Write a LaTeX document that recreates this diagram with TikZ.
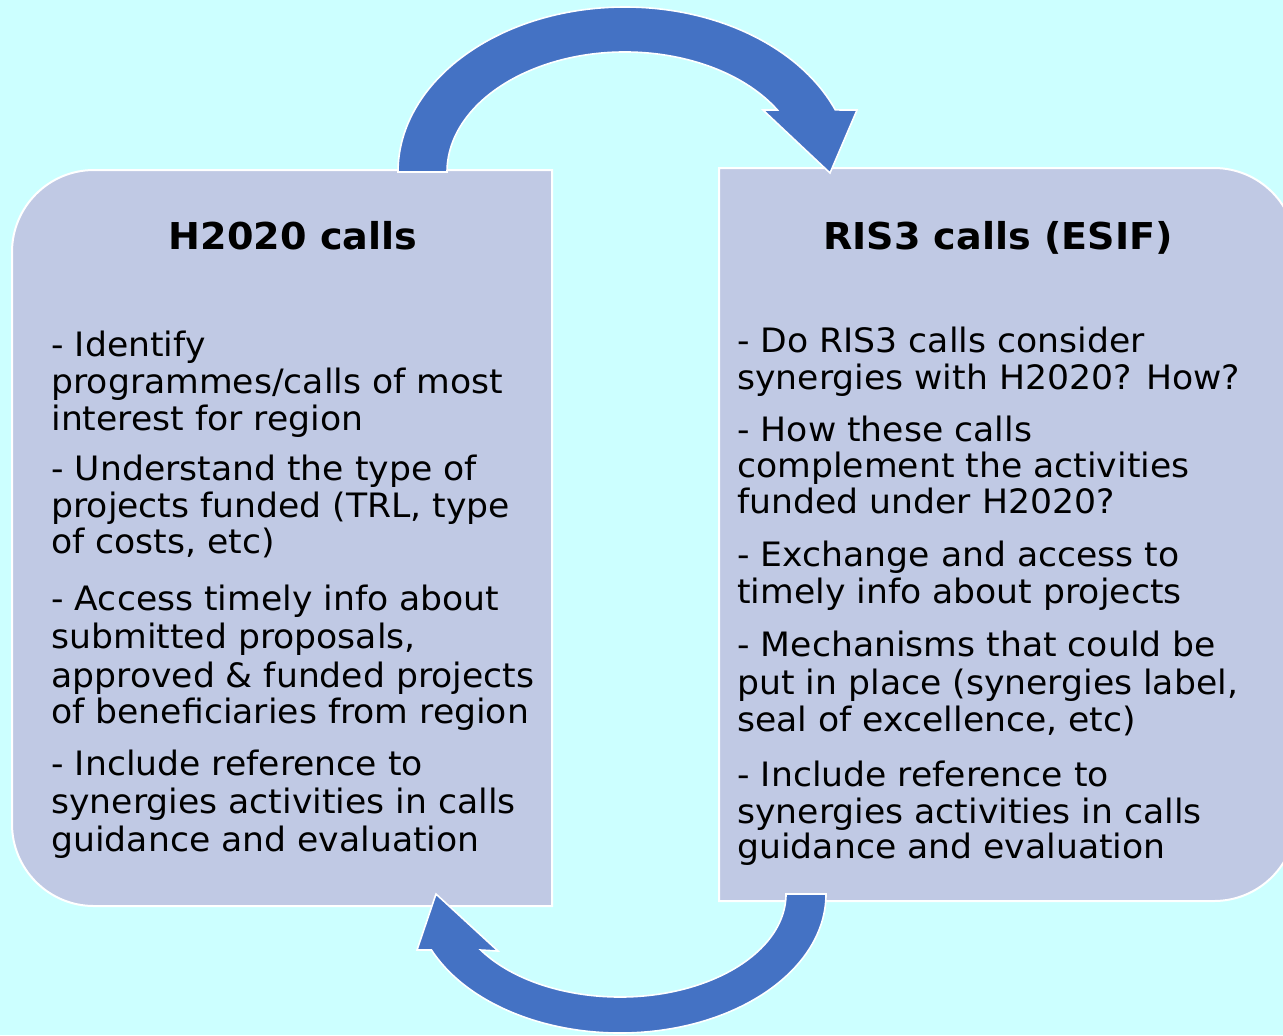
\documentclass[tikz,border=0pt]{standalone}
\usepackage{fontspec}
\setmainfont{DejaVu Sans}[FakeStretch=1.03]
\definecolor{bgcyan}{RGB}{204,255,255}
\definecolor{boxfill}{RGB}{192,201,228}
\definecolor{arrowblue}{RGB}{68,114,196}
\begin{document}
\begin{tikzpicture}[x=0.5pt,y=-0.5pt,
  boxshape/.style={fill=boxfill,draw=white,line width=1pt},
  arrowshape/.style={fill=arrowblue,draw=white,line width=0.8pt,line join=miter},
  titletext/.style={font=\bfseries\fontsize{18.5}{22}\selectfont,anchor=base,inner sep=0pt},
  bodytext/.style={font=\fontsize{16.8}{19}\selectfont,anchor=base west,inner sep=0pt}]
\useasboundingbox (0,0) rectangle (1283,1035);
\clip (0,0) rectangle (1283,1035);
\fill[bgcyan] (0,0) rectangle (1283,1035);
% boxes
\draw[boxshape] (552,170) {[rounded corners=41pt] -- (12,170) -- (12,906)} -- (552,906) -- cycle;
\draw[boxshape] (719,168) {[rounded corners=41pt] -- (1296,168) -- (1296,901)} -- (719,901) -- cycle;
% top arrow
\draw[arrowshape] (398,172) arc[start angle=180,end angle=337.9,x radius=227,y radius=165]
  -- (857,110) -- (830,173) -- (763,110) -- (777.4,110)
  arc[start angle=328.9,end angle=180,x radius=178,y radius=120] -- cycle;
% bottom arrow
\draw[arrowshape] (826,894) arc[start angle=0,end angle=156.24,x radius=206,y radius=139]
  -- (417,950) -- (436,894) -- (498,951) -- (480.7,950)
  arc[start angle=147.06,end angle=0,x radius=166,y radius=103] -- cycle;
% titles
\node[titletext] (ht) at (293,249) {H2020 calls};
\node[titletext] (rt) at (998,249) {RIS3 calls (ESIF)};
% left text
\node[bodytext] (l1) at (51,356) {- Identify};
\node[bodytext] (l2) at (51,393) {programmes/calls of most};
\node[bodytext] (l3) at (51,430) {interest for region};
\node[bodytext] (l4) at (51,480) {- Understand the type of};
\node[bodytext] (l5) at (51,517) {projects funded (TRL, type};
\node[bodytext] (l6) at (51,553) {of costs, etc)};
\node[bodytext] (l7) at (51,610) {- Access timely info about};
\node[bodytext] (l8) at (51,648) {submitted proposals,};
\node[bodytext] (l9) at (51,687) {approved \& funded projects};
\node[bodytext] (l10) at (51,723) {of beneficiaries from region};
\node[bodytext] (l11) at (51,775) {- Include reference to};
\node[bodytext] (l12) at (51,813) {synergies activities in calls};
\node[bodytext] (l13) at (51,851) {guidance and evaluation};
% right text
\node[bodytext] (r1) at (737,352) {- Do RIS3 calls consider};
\node[bodytext] (r2) at (737,389) {synergies with H2020? How?};
\node[bodytext] (r3) at (737,441) {- How these calls};
\node[bodytext] (r4) at (737,477) {complement the activities};
\node[bodytext] (r5) at (737,513) {funded under H2020?};
\node[bodytext] (r6) at (737,566) {- Exchange and access to};
\node[bodytext] (r7) at (737,603) {timely info about projects};
\node[bodytext] (r8) at (737,656) {- Mechanisms that could be};
\node[bodytext] (r9) at (737,694) {put in place (synergies label,};
\node[bodytext] (r10) at (737,731) {seal of excellence, etc)};
\node[bodytext] (r11) at (737,786) {- Include reference to};
\node[bodytext] (r12) at (737,823) {synergies activities in calls};
\node[bodytext] (r13) at (737,858) {guidance and evaluation};
\end{tikzpicture}
\end{document}
